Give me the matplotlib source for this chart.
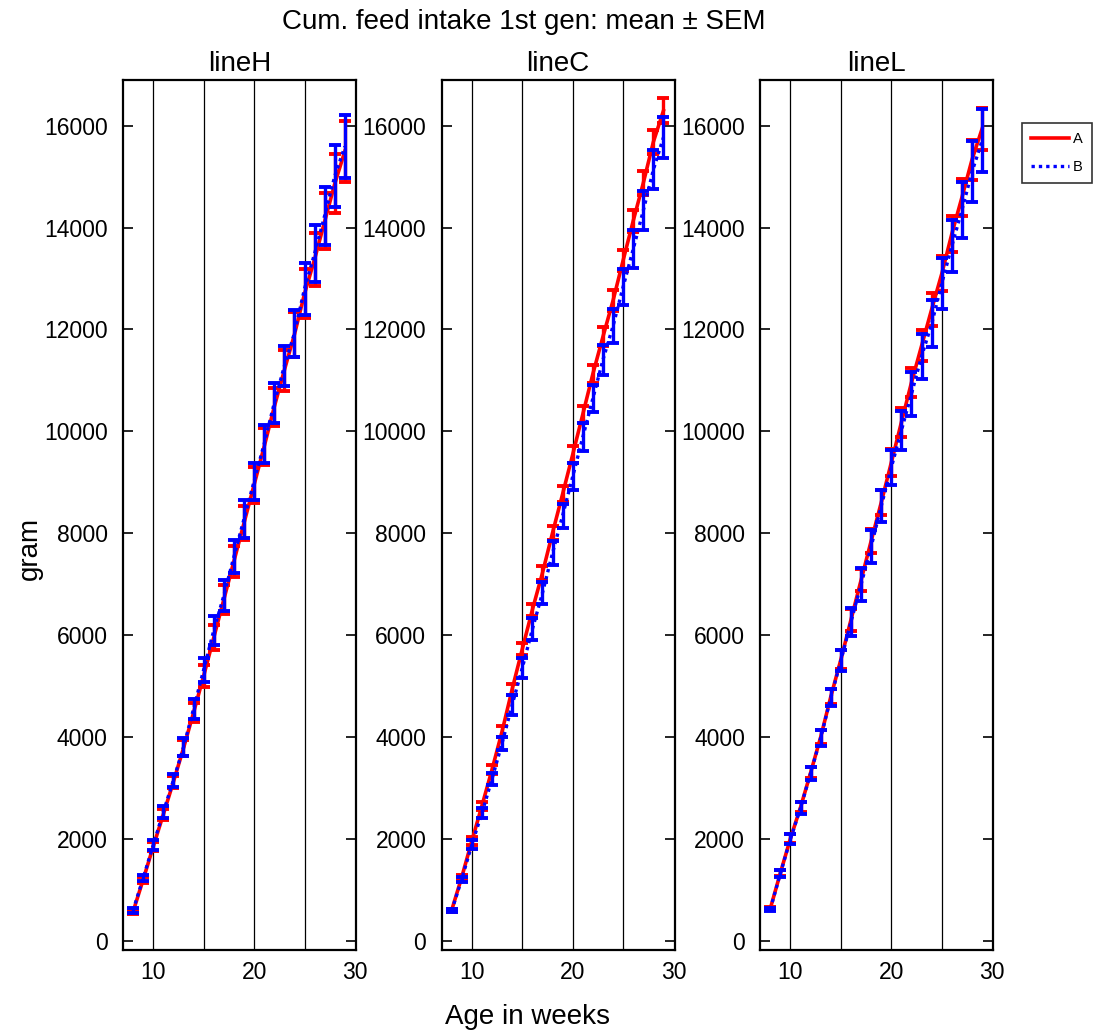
import matplotlib
matplotlib.use("Agg")
import matplotlib.pyplot as plt

plt.rcParams['font.family'] = ['Liberation Sans', 'DejaVu Sans']

# age in weeks
weeks = [8, 9, 10, 11, 12, 13, 14, 15, 16, 17, 18, 19, 20, 21, 22, 23, 24, 25, 26, 27, 28, 29]

# lineH
h_a_mean = [570, 1200, 1850, 2480, 3120, 3780, 4480, 5200, 5950, 6700, 7450,
            8200, 8950, 9700, 10480, 11200, 11900, 12700, 13380, 14120, 14860, 15500]
h_a_sem = [35, 55, 85, 100, 120, 160, 180, 210, 250, 280, 300,
           340, 350, 360, 380, 400, 440, 480, 520, 550, 580, 600]
h_b_mean = [595, 1230, 1880, 2530, 3150, 3800, 4555, 5320, 6090, 6775, 7540,
            8280, 9020, 9755, 10555, 11280, 11925, 12800, 13490, 14235, 15010, 15590]
h_b_sem = [40, 60, 90, 110, 130, 180, 195, 230, 280, 300, 320,
           375, 365, 375, 390, 400, 460, 510, 555, 570, 600, 610]

# lineC
c_a_mean = [600, 1250, 1960, 2650, 3360, 4110, 4940, 5724, 6496, 7218, 8007,
            8769, 9544, 10333, 11127, 11857, 12566, 13355, 14130, 14873, 15681, 16293]
c_a_sem = [25, 45, 70, 80, 90, 100, 110, 120, 120, 130, 140,
           150, 160, 170, 180, 190, 200, 210, 220, 230, 240, 250]
c_b_mean = [589, 1211, 1890, 2507, 3177, 3880, 4633, 5353, 6115, 6825, 7610,
            8345, 9110, 9885, 10645, 11405, 12065, 12835, 13575, 14334, 15135, 15770]
c_b_sem = [30, 50, 80, 100, 115, 130, 195, 196, 220, 210, 230,
           233, 270, 278, 272, 295, 333, 350, 370, 376, 380, 400]

# lineL
l_a_mean = [630, 1330, 2010, 2620, 3300, 4000, 4790, 5520, 6300, 7076, 7846,
            8600, 9386, 10176, 10958, 11677, 12394, 13090, 13875, 14590, 15330, 15937]
l_a_sem = [25, 60, 90, 100, 110, 130, 150, 180, 210, 219, 235,
           250, 272, 285, 285, 304, 321, 343, 360, 370, 390, 408]
l_b_mean = [620, 1320, 2000, 2607, 3290, 3985, 4770, 5500, 6260, 6995, 7735,
            8533, 9290, 10017, 10734, 11470, 12108, 12900, 13637, 14344, 15092, 15704]
l_b_sem = [25, 70, 100, 115, 130, 157, 170, 213, 272, 320, 320,
           321, 337, 378, 424, 446, 460, 500, 518, 550, 599, 622]

panels = [
    ('lineH', h_a_mean, h_a_sem, h_b_mean, h_b_sem),
    ('lineC', c_a_mean, c_a_sem, c_b_mean, c_b_sem),
    ('lineL', l_a_mean, l_a_sem, l_b_mean, l_b_sem),
]
grid_x = [10, 15, 20, 25]
y_ticks = [0, 2000, 4000, 6000, 8000, 10000, 12000, 14000, 16000]

fig, axes = plt.subplots(1, 3, figsize=(10.95, 10.36), dpi=100)
fig.subplots_adjust(left=0.1123, right=0.907, bottom=0.083, top=0.923, wspace=0.3675)

for ax, (name, a_mean, a_sem, b_mean, b_sem) in zip(axes, panels):
    for gx in grid_x:
        ax.axvline(gx, color='black', lw=0.9, zorder=1)

    ax.errorbar(weeks, a_mean, yerr=a_sem, color='#ff0000', lw=2.6,
                elinewidth=2.4, capsize=4.5, capthick=2.8, zorder=3, label='A')
    eb = ax.errorbar(weeks, b_mean, yerr=b_sem, color='#0000ff', lw=2.4,
                     elinewidth=2.4, capsize=4.5, capthick=2.8, zorder=4, label='B')
    eb[0].set_linestyle((0, (1, 1.2)))

    ax.set_xlim(7, 30.1)
    ax.set_ylim(-180, 16900)
    ax.set_xticks([10, 20, 30])
    ax.set_yticks(y_ticks)
    ax.tick_params(axis='both', direction='in', labelsize=16.5, length=7, width=1.2,
                   right=True, top=False)
    ax.tick_params(axis='y', pad=11)
    ax.tick_params(axis='x', length=0, pad=8)
    for sp in ax.spines.values():
        sp.set_linewidth(1.6)
    ax.set_title(name, fontsize=20, pad=6)

fig.text(0.478, 0.979, 'Cum. feed intake 1st gen: mean \u00b1 SEM', fontsize=20,
         ha='center', va='center')
fig.text(0.027, 0.471, 'gram', fontsize=20, rotation=90, ha='center', va='center')
fig.text(0.482, 0.018, 'Age in weeks', fontsize=20, ha='center', va='center')

handles, labels = axes[2].get_legend_handles_labels()
leg = fig.legend([h[0] for h in handles], labels, loc='upper left',
                 bbox_to_anchor=(1022 / 1095, 1 - 123 / 1036), fontsize=10.5,
                 handlelength=2.6, labelspacing=1.0, handletextpad=0.3,
                 borderpad=0.6, fancybox=False, frameon=True, borderaxespad=0)
leg.get_frame().set_edgecolor('black')
leg.get_frame().set_linewidth(1.2)

fig.savefig('out.png', dpi=100)
